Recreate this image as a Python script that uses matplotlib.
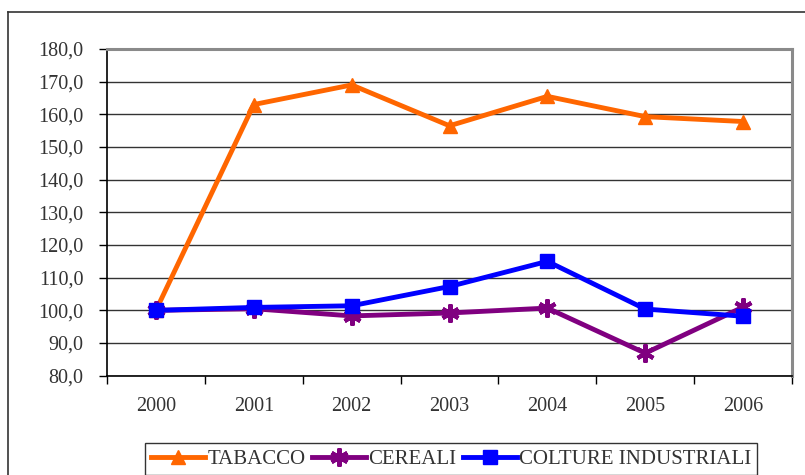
import numpy as np
import matplotlib.pyplot as plt
from matplotlib.lines import Line2D

years = ["2000", "2001", "2002", "2003", "2004", "2005", "2006"]
tabacco = [100.0, 163.0, 169.0, 156.5, 165.5, 159.3, 157.8]
cereali = [100.0, 100.5, 98.3, 99.2, 100.7, 86.9, 101.0]
colture = [100.0, 100.9, 101.4, 107.3, 115.0, 100.4, 98.2]

plt.rcParams['font.family'] = ['Liberation Serif', 'DejaVu Serif']

fig = plt.figure(figsize=(8.05, 4.75), dpi=100)

# outer frame (cut off at right and bottom)
W, H = 805.0, 475.0
fig.add_artist(Line2D([8 / W, 1], [1 - 12 / H, 1 - 12 / H], color='#333333', lw=1.2))
fig.add_artist(Line2D([8 / W, 8 / W], [0, 1 - 12 / H], color='#333333', lw=1.2))

ax = fig.add_axes([107 / W, 1 - 375.7 / H, (792 - 107) / W, (375.7 - 49) / H])

x = np.arange(len(years))
ax.plot(x, tabacco, color='#FF6600', lw=3.5, marker='^', markersize=10, label='TABACCO', zorder=3)
ax.plot(x, cereali, color='#800080', lw=3.5, marker=(6, 2, 0), markersize=13, mew=3, label='CEREALI', zorder=4)
ax.plot(x, colture, color='#0000FF', lw=3.5, marker='s', markersize=10, label='COLTURE INDUSTRIALI', zorder=5)

ax.set_ylim(80, 180)
ax.set_yticks(np.arange(80, 181, 10))
ax.set_yticklabels(["%d,0" % v for v in range(80, 181, 10)], fontsize=14.5, color='#333333')
ax.yaxis.grid(True, color='#333333', lw=1)
ax.set_axisbelow(True)

ax.set_xlim(-0.5, len(years) - 0.5)
ax.set_xticks(np.arange(-0.5, len(years), 1))
ax.set_xticklabels([])
ax.set_xticks(x, minor=True)
ax.set_xticklabels(years, minor=True, fontsize=14.5, color='#333333')
ax.tick_params(axis='x', which='minor', length=0, pad=15)
ax.tick_params(axis='x', which='major', length=6, width=1, direction='out')
ax.tick_params(axis='y', length=6, width=1, direction='out', pad=11)

for s in ['top', 'right']:
    ax.spines[s].set_color('#8a8a8a')
    ax.spines[s].set_linewidth(2.2)
for s in ['left', 'bottom']:
    ax.spines[s].set_color('black')
    ax.spines[s].set_linewidth(1.2)

leg = fig.legend(loc='upper left', bbox_to_anchor=(145 / W, 1 - 443 / H), ncol=3,
                 fontsize=15, frameon=True, fancybox=False, edgecolor='black',
                 handlelength=2.6, handletextpad=0.1, columnspacing=0.3,
                 borderpad=0.3, borderaxespad=0)
leg.get_frame().set_linewidth(1.0)
for t in leg.get_texts():
    t.set_color('#333333')

fig.savefig('out.png', dpi=100)
